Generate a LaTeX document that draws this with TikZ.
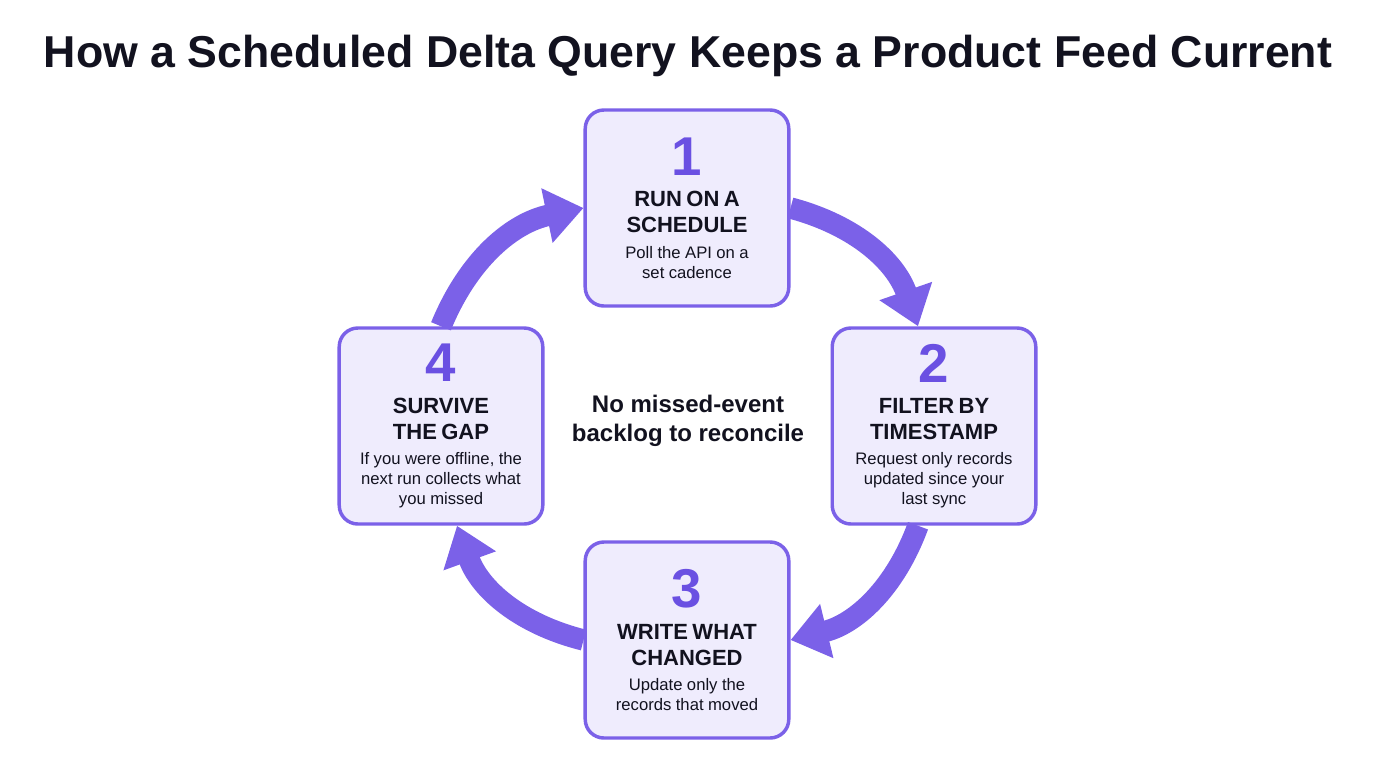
\documentclass[tikz,border=0pt]{standalone}
\usepackage{fontspec}
\setmainfont{Liberation Sans}
\usetikzlibrary{arrows.meta,positioning}
\definecolor{stepline}{HTML}{7B61E8}
\definecolor{stepfill}{HTML}{EFECFD}
\definecolor{stepnum}{HTML}{6A50E2}
\definecolor{ink}{HTML}{12121F}
\newcommand{\stepbox}[3]{{\fontsize{41}{44}\selectfont\bfseries\color{stepnum}#1\par}\vspace{4pt}
  {\fontsize{16.5}{19.5}\selectfont\bfseries #2\par}\vspace{4pt}
  {\fontsize{12.5}{15}\selectfont #3\par}}
\begin{document}
\begin{tikzpicture}[x=0.75pt,y=-0.75pt]
	\tikzstyle{stepnode} = [rectangle,rounded corners=14pt,draw=stepline,line width=2.6pt,fill=stepfill,minimum width=152pt,minimum height=147pt,text width=146pt,align=center,text=ink]
	\tikzstyle{cyclearrow} = [draw=stepline,line width=16pt,-{Triangle[length=28pt,width=40pt]}]
	\useasboundingbox[fill=white] (0,0) rectangle (1376,768);
	\node[text=ink,font=\fontsize{33.5}{38}\selectfont\bfseries](title)at(688,56){How a Scheduled Delta Query Keeps a Product Feed Current};
	\node[stepnode](run)at(687,208){\stepbox{1}{RUN ON A\\SCHEDULE}{Poll the API on a\\set cadence}};
	\node[stepnode](filter)at(934,426){\stepbox{2}{FILTER BY\\TIMESTAMP}{Request only records\\updated since your\\last sync}};
	\node[stepnode](write)at(687,640){\stepbox{3}{WRITE WHAT\\CHANGED}{Update only the\\records that moved}};
	\node[stepnode](survive)at(441,426){\stepbox{4}{SURVIVE\\THE GAP}{If you were offline, the\\next run collects what\\you missed}};
	\node[text=ink,align=center,font=\fontsize{18}{22}\selectfont\bfseries](core)at(688,421){No missed-event\\backlog to reconcile};
	\path[cyclearrow] (run.east) to[bend left=28] ([xshift=-12pt]filter.north);
	\path[cyclearrow] ([xshift=-12pt]filter.south) to[bend left=28] (write.east);
	\path[cyclearrow] (write.west) to[bend left=28] ([xshift=12pt]survive.south);
	\path[cyclearrow] (survive.north) to[bend left=28] (run.west);
\end{tikzpicture}
\end{document}
